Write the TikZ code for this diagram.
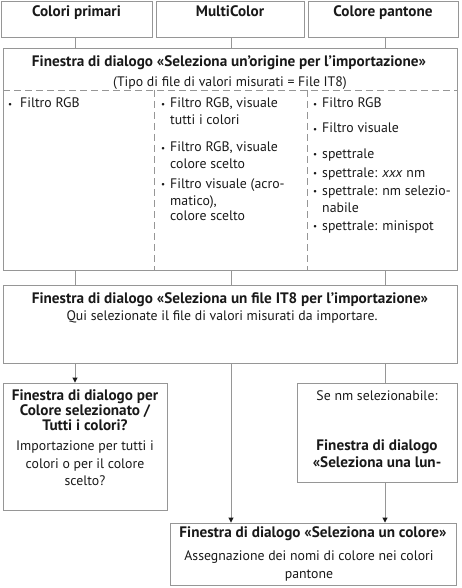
\documentclass[tikz,border=0pt]{standalone}
\usepackage{fontspec}
\setmainfont{PT Sans}
\usetikzlibrary{arrows.meta}
\definecolor{linegray}{RGB}{150,150,150}
\definecolor{txt}{RGB}{25,25,25}
\newcommand{\bul}[1]{\makebox[#1][l]{\raisebox{0.5pt}{\fontsize{9}{9}\selectfont•}}}
\begin{document}
\begin{tikzpicture}[x=1pt,y=-1pt,
  box/.style={draw=linegray,line width=0.9pt,minimum width=#1,inner sep=0pt},
  conn/.style={draw=linegray,line width=0.9pt},
  arr/.style={conn,-{Triangle[width=5pt,length=5pt,fill=txt,color=txt]}},
  dsh/.style={draw=linegray,line width=0.8pt,dash pattern=on 7pt off 4pt},
  tl/.style={anchor=base,inner sep=0pt,text=txt,font=\fontsize{13.8}{16}\selectfont},
  tb/.style={tl,font=\fontsize{15.2}{16}\selectfont\bfseries},
  li/.style={anchor=base west,inner sep=0pt,text=txt,font=\fontsize{13.8}{16}\selectfont}]
\useasboundingbox (0,0) rectangle (461,588);
% top boxes
\node[box=151pt,minimum height=36pt] (t1) at (76.5,19) {};
\node[box=148pt,minimum height=36pt] (t2) at (230,19) {};
\node[box=150pt,minimum height=36pt] (t3) at (383,19) {};
\node[tb] (t1l) at (76.5,17) {Colori primari};
\node[tb] (t2l) at (230,17) {MultiColor};
\node[tb] (t3l) at (383,17) {Colore pantone};
% big box 1
\node[box=454pt,minimum height=222pt] (b1) at (230,159) {};
\node[tb] (b1t) at (229,67) {Finestra di dialogo «Seleziona un’origine per l’importazione»};
\node[tl] (b1s) at (230,87) {(Tipo di file di valori misurati = File IT8)};
\coordinate (dl) at (3,90);
\coordinate (dr) at (457,90);
\draw[dsh] (dl) -- (dr);
\coordinate (v1) at (154,90);
\coordinate (v2) at (307,90);
\draw[dsh] (v1) -- (v1 |- b1.south);
\draw[dsh] (v2) -- (v2 |- b1.south);
% column 1
\node[li] (c1a) at (8,108) {\bul{12pt}Filtro RGB};
% column 2
\node[li] (c2a) at (161,108) {\bul{9pt}Filtro RGB, visuale};
\node[li] (c2b) at (170,125) {tutti i colori};
\node[li] (c2c) at (161,152) {\bul{9pt}Filtro RGB, visuale};
\node[li] (c2d) at (170,168) {colore scelto};
\node[li] (c2e) at (161,188) {\bul{9pt}Filtro visuale (acro-};
\node[li] (c2f) at (170,205) {matico),};
\node[li] (c2g) at (170,220) {colore scelto};
% column 3
\node[li] (c3a) at (313,108) {\bul{9pt}Filtro RGB};
\node[li] (c3b) at (313,133) {\bul{9pt}Filtro visuale};
\node[li] (c3c) at (313,158) {\bul{9pt}spettrale};
\node[li] (c3d) at (313,177) {\bul{9pt}spettrale: \textit{xxx} nm};
\node[li] (c3e) at (313,195) {\bul{9pt}spettrale: nm selezio-};
\node[li] (c3f) at (322,212) {nabile};
\node[li] (c3g) at (313,230) {\bul{9pt}spettrale: minispot};
% box 2
\node[box=454pt,minimum height=78pt] (b2) at (230,324) {};
\node[tb] (b2t) at (230,303) {Finestra di dialogo «Seleziona un file IT8 per l’importazione»};
\node[tl] (b2s) at (222,320) {Qui selezionate il file di valori misurati da importare.};
% box 3
\node[box=164pt,minimum height=127pt] (b3) at (85,446.5) {};
\node[tb] (b3a) at (85,400) {Finestra di dialogo per};
\node[tb] (b3b) at (85,415) {Colore selezionato /};
\node[tb] (b3c) at (85,430) {Tutti i colori?};
\node[tl] (b3d) at (85,450) {Importazione per tutti i};
\node[tl] (b3e) at (85,468) {colori o per il colore};
\node[tl] (b3f) at (85,485) {scelto?};
% box 4
\node[box=160pt,minimum height=99pt] (b4) at (377,432.5) {};
\node[tl] (b4a) at (377,400) {Se nm selezionabile:};
\node[tb] (b4b) at (377,450) {Finestra di dialogo};
\node[tb] (b4c) at (377,467) {«Seleziona una lun-};
% box 5
\node[box=286pt,minimum height=62pt] (b5) at (313,554) {};
\node[tb] (b5a) at (313,537) {Finestra di dialogo «Seleziona un colore»};
\node[tl] (b5b) at (309,560) {Assegnazione dei nomi di colore nei colori};
\node[tl] (b5c) at (309,578) {pantone};
% connectors
\coordinate (x1) at (75,0);
\coordinate (x2) at (231,0);
\coordinate (x3) at (385,0);
\draw[conn] (t1.south -| x1) -- (b1.north -| x1);
\draw[conn] (t2.south -| x2) -- (b1.north -| x2);
\draw[conn] (t3.south -| x3) -- (b1.north -| x3);
\draw[conn] (b1.south -| x1) -- (b2.north -| x1);
\draw[conn] (b1.south -| x2) -- (b2.north -| x2);
\draw[conn] (b1.south -| x3) -- (b2.north -| x3);
\draw[arr] (b2.south -| x1) -- (b3.north -| x1);
\draw[arr] (b2.south -| x2) -- (b5.north -| x2);
\draw[conn] (b2.south -| x3) -- (b4.north -| x3);
\draw[arr] (b4.south -| x3) -- (b5.north -| x3);
\end{tikzpicture}
\end{document}
